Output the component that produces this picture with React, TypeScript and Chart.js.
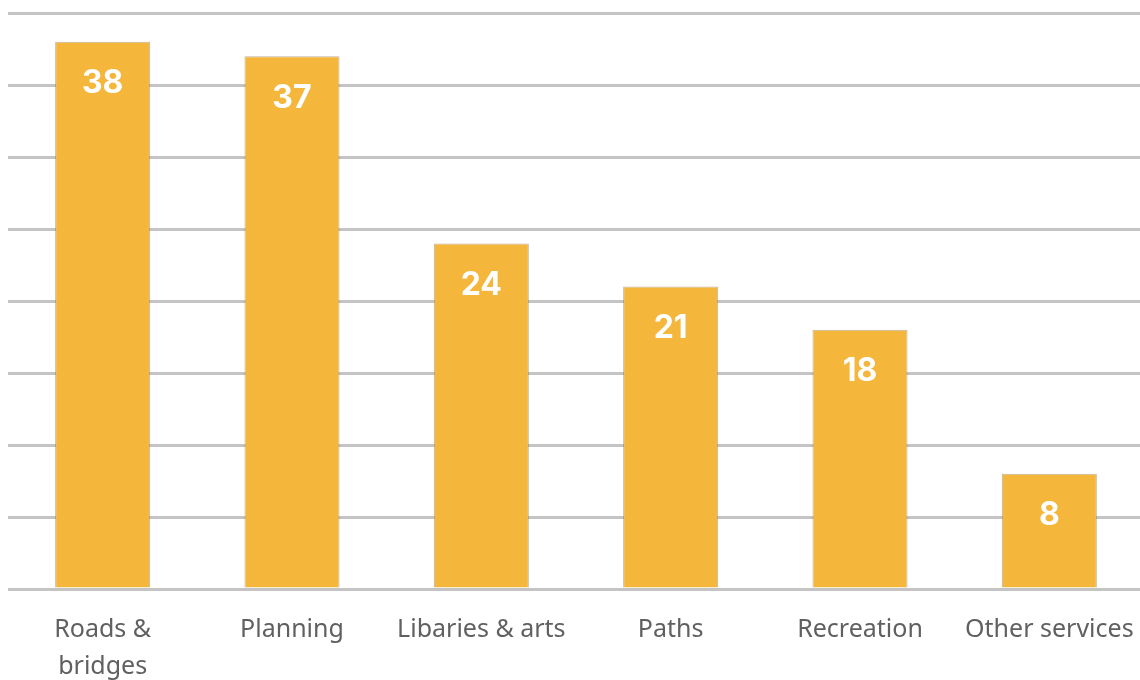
import React, { useEffect, useRef } from "react";
import { Chart, registerables } from "chart.js";

Chart.register(...registerables);

const categories: (string | string[])[] = [
  ["Roads &", "bridges"],
  "Planning",
  "Libaries & arts",
  "Paths",
  "Recreation",
  "Other services",
];
const values: number[] = [38, 37, 24, 21, 18, 8];
const yMax = 40;
const yStep = 5;

const barLabelPlugin = {
  id: "barLabels",
  afterDatasetsDraw(chart: any) {
    const ctx = chart.ctx;
    const meta = chart.getDatasetMeta(0);
    ctx.save();
    ctx.fillStyle = "#ffffff";
    ctx.font = "bold 32px Inter, 'Noto Sans', sans-serif";
    ctx.textAlign = "center";
    ctx.textBaseline = "middle";
    meta.data.forEach((bar: any, i: number) => {
      ctx.fillText(String(values[i]), bar.x, bar.y + 42);
    });
    ctx.restore();
  },
};

export default function App() {
  const ref = useRef<HTMLCanvasElement | null>(null);
  useEffect(() => {
    if (!ref.current) return;
    const chart = new Chart(ref.current, {
      type: "bar",
      data: {
        labels: categories,
        datasets: [
          {
            data: values,
            backgroundColor: "#F4B63B",
            borderColor: "rgba(140,120,90,0.55)",
            borderWidth: 1,
            categoryPercentage: 0.502,
            barPercentage: 1,
          },
        ],
      },
      options: {
        animation: false,
        responsive: false,
        maintainAspectRatio: false,
        layout: { padding: { left: 8, right: 0, top: 13, bottom: 0 } },
        plugins: {
          legend: { display: false },
          tooltip: { enabled: false },
        },
        scales: {
          x: {
            grid: { display: false, drawTicks: false },
            border: { display: false },
            ticks: {
              color: "#606060",
              font: { family: "'Noto Sans', sans-serif", size: 25, lineHeight: 1.48 },
              padding: 22,
              maxRotation: 0,
              autoSkip: false,
            },
            afterFit: (scale: any) => {
              scale.height = 91;
              scale.paddingLeft = 0;
              scale.paddingRight = 0;
            },
          },
          y: {
            min: 0,
            max: yMax,
            ticks: { display: false, stepSize: yStep },
            border: { display: false },
            grid: { color: "#c4c4c4", lineWidth: 3, drawTicks: false },
            afterFit: (scale: any) => {
              scale.paddingTop = 0;
              scale.paddingBottom = 0;
            },
          },
        },
      },
      plugins: [barLabelPlugin],
    });
    return () => chart.destroy();
  }, []);
  return (
    <div style={{ position: "fixed", left: 0, top: 0, width: 1140, height: 680, background: "#fff", overflow: "hidden" }}>
      <canvas ref={ref} width={1144} height={680} style={{ display: "block" }} />
    </div>
  );
}
